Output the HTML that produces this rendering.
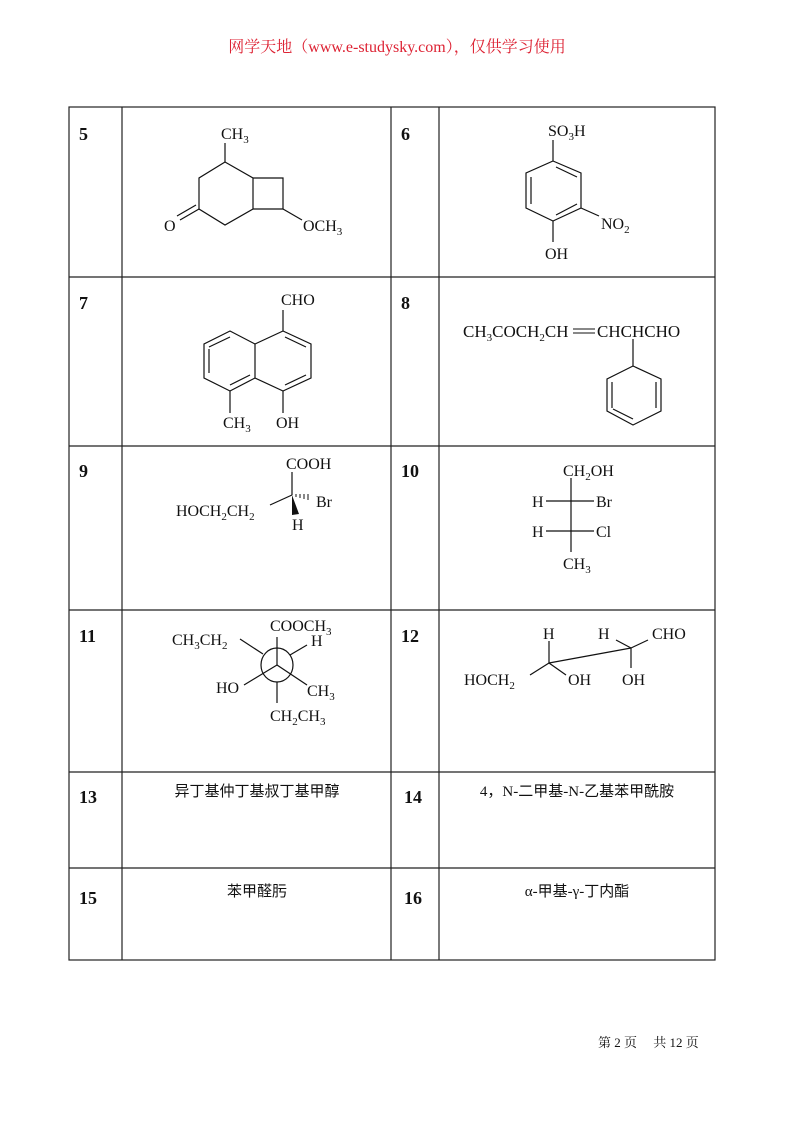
<!DOCTYPE html>
<html><head><meta charset="utf-8"><style>
html,body{margin:0;padding:0;background:#fff;}
svg{display:block;}
text{font-family:"Liberation Serif","Noto Serif CJK SC",serif;fill:#111;}
.n{font-weight:bold;font-size:18px;}
.t{font-size:16px;}
.s{font-size:11px;}
.cj{font-family:"Liberation Serif","Noto Sans CJK SC",sans-serif;font-size:15px;}
</style></head><body>
<svg width="793" height="1122" viewBox="0 0 793 1122" xmlns="http://www.w3.org/2000/svg">
<text x="397" y="52" text-anchor="middle" style="fill:#d23;font-size:16px;font-family:'Liberation Serif','Noto Serif CJK SC',serif">网学天地（www.e-studysky.com），仅供学习使用</text>

<g stroke="#222" stroke-width="1.2" fill="none">
<rect x="69" y="107" width="646" height="853"/>
<line x1="122" y1="107" x2="122" y2="960"/>
<line x1="391" y1="107" x2="391" y2="960"/>
<line x1="439" y1="107" x2="439" y2="960"/>
<line x1="69" y1="277" x2="715" y2="277"/>
<line x1="69" y1="446" x2="715" y2="446"/>
<line x1="69" y1="610" x2="715" y2="610"/>
<line x1="69" y1="772" x2="715" y2="772"/>
<line x1="69" y1="868" x2="715" y2="868"/>
</g>

<text class="n" x="79" y="140">5</text>
<text class="n" x="401" y="140">6</text>
<text class="n" x="79" y="309">7</text>
<text class="n" x="401" y="309">8</text>
<text class="n" x="79" y="477">9</text>
<text class="n" x="401" y="477">10</text>
<text class="n" x="79" y="642">11</text>
<text class="n" x="401" y="642">12</text>
<text class="n" x="79" y="803">13</text>
<text class="n" x="404" y="803">14</text>
<text class="n" x="79" y="904">15</text>
<text class="n" x="404" y="904">16</text>

<g stroke="#111" stroke-width="1.2" fill="none">
<!-- 5 -->
<polyline points="225,162 253,178 253,209 225,225 199,209 199,178 225,162"/>
<line x1="225" y1="162" x2="225" y2="143"/>
<polyline points="253,178 283,178 283,209 253,209"/>
<line x1="283" y1="209" x2="302" y2="220"/>
<line x1="199" y1="209" x2="180" y2="220"/>
<line x1="196" y1="205" x2="177" y2="216"/>
<!-- 6 -->
<polygon points="553,161 581,173 581,208 553,221 526,208 526,173"/>
<line x1="531" y1="177" x2="531" y2="204"/>
<line x1="556" y1="167" x2="577" y2="177"/>
<line x1="556" y1="215" x2="577" y2="204"/>
<line x1="553" y1="161" x2="553" y2="140"/>
<line x1="581" y1="208" x2="599" y2="216"/>
<line x1="553" y1="221" x2="553" y2="242"/>
<!-- 7 -->
<polygon points="255,344 283,331 311,344 311,378 283,391 255,378"/>
<polyline points="255,344 230,331 204,344 204,378 230,391 255,378"/>
<line x1="285" y1="337" x2="306" y2="347"/>
<line x1="306" y1="375" x2="285" y2="385"/>
<line x1="230" y1="337" x2="209" y2="347"/>
<line x1="209" y1="349" x2="209" y2="373"/>
<line x1="230" y1="385" x2="250" y2="375"/>
<line x1="283" y1="331" x2="283" y2="310"/>
<line x1="230" y1="391" x2="230" y2="413"/>
<line x1="283" y1="391" x2="283" y2="413"/>
<!-- 8 -->
<line x1="633" y1="339" x2="633" y2="366"/>
<polygon points="633,366 661,379 661,411 633,425 607,411 607,379"/>
<line x1="656" y1="382" x2="656" y2="408"/>
<line x1="612" y1="382" x2="612" y2="408"/>
<line x1="613" y1="409" x2="633" y2="419"/>
<!-- 9 -->
<line x1="292" y1="472" x2="292" y2="495"/>
<line x1="270" y1="505" x2="292" y2="495"/>
<!-- 10 -->
<line x1="571" y1="478" x2="571" y2="552"/>
<line x1="546" y1="501" x2="594" y2="501"/>
<line x1="546" y1="531" x2="594" y2="531"/>
<!-- 11 -->
<ellipse cx="277" cy="665" rx="16" ry="17"/>
<line x1="277" y1="665" x2="277" y2="637"/>
<line x1="277" y1="665" x2="244" y2="685"/>
<line x1="277" y1="665" x2="307" y2="685"/>
<line x1="263" y1="654" x2="240" y2="639"/>
<line x1="290" y1="655" x2="307" y2="645"/>
<line x1="277" y1="682" x2="277" y2="703"/>
<!-- 12 -->
<line x1="549" y1="663" x2="631" y2="648"/>
<line x1="549" y1="663" x2="549" y2="641"/>
<line x1="549" y1="663" x2="530" y2="675"/>
<line x1="549" y1="663" x2="566" y2="675"/>
<line x1="631" y1="648" x2="616" y2="640"/>
<line x1="631" y1="648" x2="648" y2="640"/>
<line x1="631" y1="648" x2="631" y2="668"/>
</g>
<!-- 9 wedge/hash -->
<polygon points="292,495 292,515 299,514" fill="#111"/>
<g stroke="#111" stroke-width="1">
<line x1="296" y1="494" x2="296" y2="497"/><line x1="300" y1="494" x2="300" y2="498"/>
<line x1="304" y1="494" x2="304" y2="499"/><line x1="308" y1="494" x2="308" y2="500"/>
</g>

<text class="t" x="221" y="139">CH<tspan class="s" dy="4">3</tspan></text>
<text class="t" x="164" y="231">O</text>
<text class="t" x="303" y="231">OCH<tspan class="s" dy="4">3</tspan></text>
<text class="t" x="548" y="136">SO<tspan class="s" dy="4">3</tspan><tspan dy="-4">H</tspan></text>
<text class="t" x="601" y="229">NO<tspan class="s" dy="4">2</tspan></text>
<text class="t" x="545" y="259">OH</text>
<text class="t" x="281" y="305">CHO</text>
<text class="t" x="223" y="428">CH<tspan class="s" dy="4">3</tspan></text>
<text class="t" x="276" y="428">OH</text>
<text x="463" y="337" style="font-size:17px">CH<tspan class="s" dy="4">3</tspan><tspan dy="-4">COCH</tspan><tspan class="s" dy="4">2</tspan><tspan dy="-4">CH</tspan></text>
<g stroke="#111" stroke-width="1.1"><line x1="573" y1="329" x2="595" y2="329"/><line x1="573" y1="333" x2="595" y2="333"/></g>
<text x="597" y="337" style="font-size:17px">CHCHCHO</text>
<text class="t" x="286" y="469">COOH</text>
<text class="t" x="176" y="516">HOCH<tspan class="s" dy="4">2</tspan><tspan dy="-4">CH</tspan><tspan class="s" dy="4">2</tspan></text>
<text class="t" x="316" y="507">Br</text>
<text class="t" x="292" y="530">H</text>
<text class="t" x="563" y="476">CH<tspan class="s" dy="4">2</tspan><tspan dy="-4">OH</tspan></text>
<text class="t" x="532" y="507">H</text>
<text class="t" x="596" y="507">Br</text>
<text class="t" x="532" y="537">H</text>
<text class="t" x="596" y="537">Cl</text>
<text class="t" x="563" y="569">CH<tspan class="s" dy="4">3</tspan></text>
<text class="t" x="270" y="631">COOCH<tspan class="s" dy="4">3</tspan></text>
<text class="t" x="172" y="645">CH<tspan class="s" dy="4">3</tspan><tspan dy="-4">CH</tspan><tspan class="s" dy="4">2</tspan></text>
<text class="t" x="311" y="646">H</text>
<text class="t" x="216" y="693">HO</text>
<text class="t" x="307" y="696">CH<tspan class="s" dy="4">3</tspan></text>
<text class="t" x="270" y="721">CH<tspan class="s" dy="4">2</tspan><tspan dy="-4">CH</tspan><tspan class="s" dy="4">3</tspan></text>
<text class="t" x="543" y="639">H</text>
<text class="t" x="598" y="639">H</text>
<text class="t" x="652" y="639">CHO</text>
<text class="t" x="464" y="685">HOCH<tspan class="s" dy="4">2</tspan></text>
<text class="t" x="568" y="685">OH</text>
<text class="t" x="622" y="685">OH</text>

<text class="cj" x="257" y="796" text-anchor="middle">异丁基仲丁基叔丁基甲醇</text>
<text class="cj" x="577" y="796" text-anchor="middle">4，N-二甲基-N-乙基苯甲酰胺</text>
<text class="cj" x="257" y="896" text-anchor="middle">苯甲醛肟</text>
<text class="cj" x="577" y="896" text-anchor="middle">α-甲基-γ-丁内酯</text>

<text x="598" y="1047" style="font-size:13px">第 2 页　 共 12 页</text>
</svg>
</body></html>
